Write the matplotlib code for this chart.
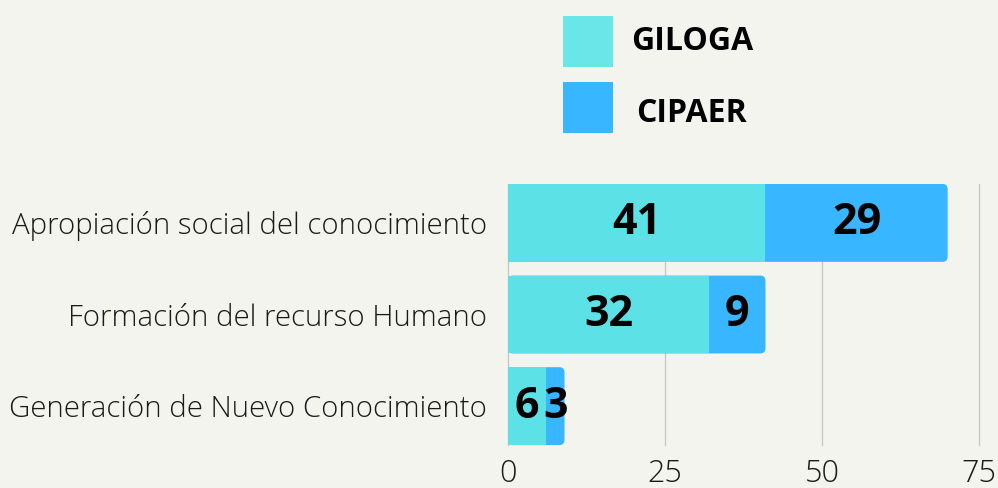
import numpy as np
import matplotlib.pyplot as plt
from matplotlib.patches import FancyBboxPatch, Rectangle

categories = ['Apropiación social del conocimiento',
              'Formación del recurso Humano',
              'Generación de Nuevo Conocimiento']
giloga = [41, 32, 6]
cipaer = [29, 9, 3]
xticks = [0, 25, 50, 75]

bg = '#f4f4ef'
c_giloga = '#5ce1e6'
c_cipaer = '#38b6ff'

plt.rcParams['font.family'] = ['Open Sans', 'DejaVu Sans']

fig = plt.figure(figsize=(9.98, 4.88), dpi=100, facecolor=bg)
ax = fig.add_axes([0.509, 0.088, 0.472, 0.535], facecolor=bg)

y = np.arange(len(categories))
h = 0.85
px_x = 0.472 * 998 / 75
px_y = 0.535 * 488 / 3
r = 5 / px_x
aspect = (5 / px_y) / r

for i in range(len(categories)):
    total = giloga[i] + cipaer[i]
    box = FancyBboxPatch((0, y[i] - h / 2), total, h,
                         boxstyle='round,pad=0,rounding_size=%f' % r,
                         mutation_aspect=aspect, facecolor=c_cipaer,
                         edgecolor='none', zorder=2)
    ax.add_patch(box)
ax.barh(y, giloga, height=h, color=c_giloga, zorder=3)

for i in range(len(categories)):
    ax.text(giloga[i] / 2, y[i], str(giloga[i]), ha='center', va='center',
            fontsize=31, fontweight='bold', color='black', zorder=4)
    ax.text(giloga[i] + cipaer[i] / 2, y[i], str(cipaer[i]), ha='center',
            va='center', fontsize=31, fontweight='bold', color='black', zorder=4)

ax.set_xlim(0, 75)
ax.set_ylim(len(categories) - 0.5 - (1 - h) / 2, -0.5 + (1 - h) / 2)
ax.set_xticks(xticks)
ax.set_xticklabels([str(t) for t in xticks])
ax.set_yticks(y)
ax.set_yticklabels(categories)
ax.tick_params(axis='both', length=0, labelcolor='#1a1a1a')
ax.tick_params(axis='x', pad=9, labelsize=22)
ax.tick_params(axis='y', pad=15, labelsize=21.2)
for lab in ax.get_yticklabels() + ax.get_xticklabels():
    lab.set_fontweight('light')
ax.grid(axis='x', color='#c8c8c8', linewidth=1, zorder=0)
for gl in ax.get_xgridlines():
    gl.set_clip_on(False)
ax.set_axisbelow(True)
for s in ax.spines.values():
    s.set_visible(False)

# legend
W, H = 998, 488
for (yy, ty, col, name) in [(16, 42, '#6ae6e9', 'GILOGA'), (82, 113, c_cipaer, 'CIPAER')]:
    fig.add_artist(Rectangle((563 / W, 1 - (yy + 51) / H), 50 / W, 51 / H,
                             transform=fig.transFigure, facecolor=col,
                             edgecolor='none'))
    fig.text(692 / W, 1 - ty / H, name, ha='center', va='center',
             fontsize=23, fontweight='bold', color='black')

fig.savefig('out.png', dpi=100, facecolor=bg)
